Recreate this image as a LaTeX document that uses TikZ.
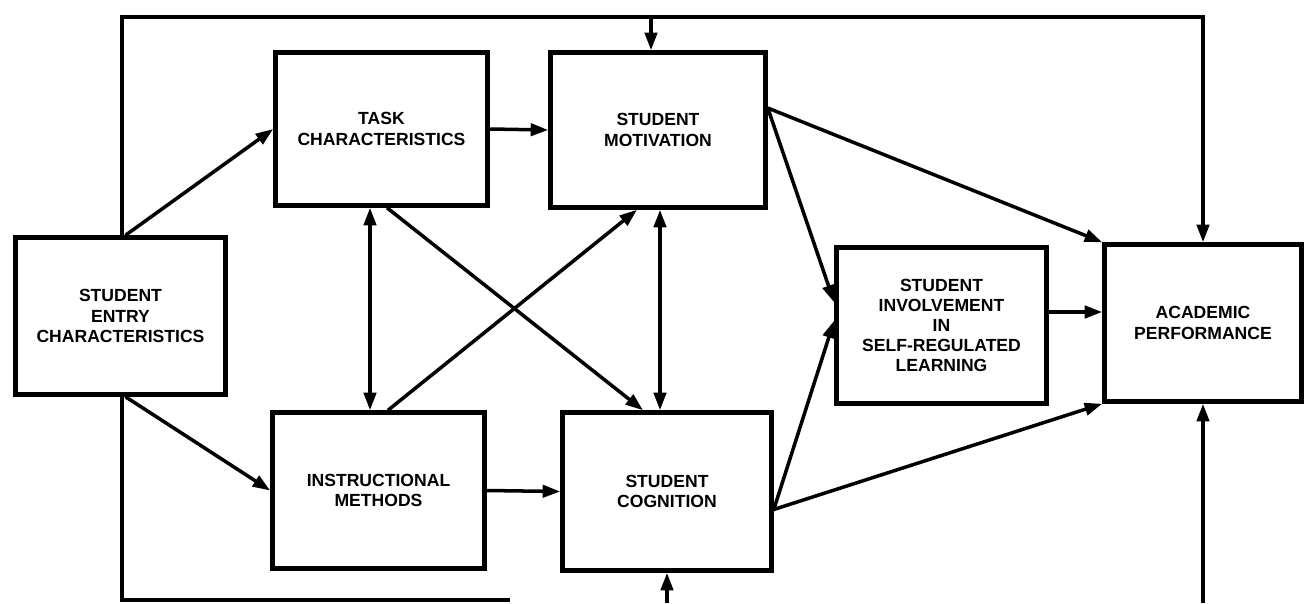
\documentclass[tikz,border=0pt]{standalone}
\usepackage{fontspec}
\setmainfont{Liberation Sans}
\usetikzlibrary{arrows.meta,backgrounds}

\begin{document}
\begin{tikzpicture}[x=0.02cm, y=-0.02cm,
	box/.style={draw, fill=white, line width=2.6pt, align=center, inner sep=0pt,
		font=\bfseries\fontsize{10}{11.5}\selectfont},
	link/.style={line width=2pt, -{Triangle[length=10pt,width=7pt]}},
	both/.style={line width=2pt, {Triangle[length=10pt,width=7pt]}-{Triangle[length=10pt,width=7pt]}}]

	\useasboundingbox (0,0) rectangle (1306,603);

	% Boxes
	\node[box, minimum width=4.2cm, minimum height=3.14cm] (entry) at (120.5,316) {STUDENT\\ENTRY\\CHARACTERISTICS};
	\node[box, minimum width=4.24cm, minimum height=3.06cm] (task) at (381.5,129) {TASK\\CHARACTERISTICS};
	\node[box, minimum width=4.3cm, minimum height=3.1cm] (motiv) at (658,130) {STUDENT\\MOTIVATION};
	\node[box, minimum width=4.24cm, minimum height=3.12cm] (instr) at (378.5,490.5) {INSTRUCTIONAL\\METHODS};
	\node[box, minimum width=4.18cm, minimum height=3.16cm] (cogn) at (667,491.5) {STUDENT\\COGNITION};
	\node[box, minimum width=4.2cm, minimum height=3.12cm] (invol) at (941.5,325.5) {STUDENT\\INVOLVEMENT\\IN\\SELF-REGULATED\\LEARNING};
	\node[box, minimum width=3.94cm, minimum height=3.14cm] (acad) at (1203,323) {ACADEMIC\\PERFORMANCE};

	% Entry to task and methods
	\draw[link] ([xshift=0.1cm]entry.north) -- (task.west);
	\draw[link] ([xshift=0.1cm]entry.south) -- (instr.west);

	% Left column to middle column
	\draw[link] (task.east) -- (motiv.west);
	\draw[link] (instr.east) -- (cogn.west);

	% Two way links
	\coordinate (tdn) at ([xshift=-0.23cm]task.south);
	\coordinate (mdn) at ([xshift=0.04cm]motiv.south);
	\draw[both] (tdn) -- (tdn |- instr.north);
	\draw[both] (mdn) -- (mdn |- cogn.north);

	% Cross
	\draw[link] ([xshift=0.11cm]task.south) -- ([xshift=-0.48cm]cogn.north);
	\draw[link] ([xshift=0.19cm]instr.north) -- ([xshift=-0.42cm]motiv.south);

	% Motivation and cognition to the right
	\draw[link] ([yshift=0.44cm]motiv.east) -- ([yshift=0.46cm]invol.west);
	\draw[link] ([yshift=0.44cm]motiv.east) -- (acad.north west);
	\draw[link] ([yshift=-0.36cm]cogn.east) -- ([yshift=0.1cm]invol.west);
	\draw[link] ([yshift=-0.36cm]cogn.east) -- (acad.south west);

	% Involvement to performance
	\coordinate (iout) at ([yshift=0.27cm]invol.east);
	\draw[link] (iout) -- (iout -| acad.west);

	% Feedback frame, behind the boxes
	\coordinate (ftl) at (122,17);
	\coordinate (fbl) at (122,600);
	\coordinate (fbe) at (510,600);
	\coordinate (fbot) at (0,603);
	\coordinate (mtop) at ([xshift=-0.14cm]motiv.north);
	\begin{scope}[on background layer]
		\draw[link] (fbe) -- (fbl) -- (ftl) -| (acad.north);
	\end{scope}
	\draw[link] (mtop |- ftl) -- (mtop);
	\draw[link] (cogn.south |- fbot) -- (cogn.south);
	\draw[link] (acad.south |- fbot) -- (acad.south);

\end{tikzpicture}
\end{document}
